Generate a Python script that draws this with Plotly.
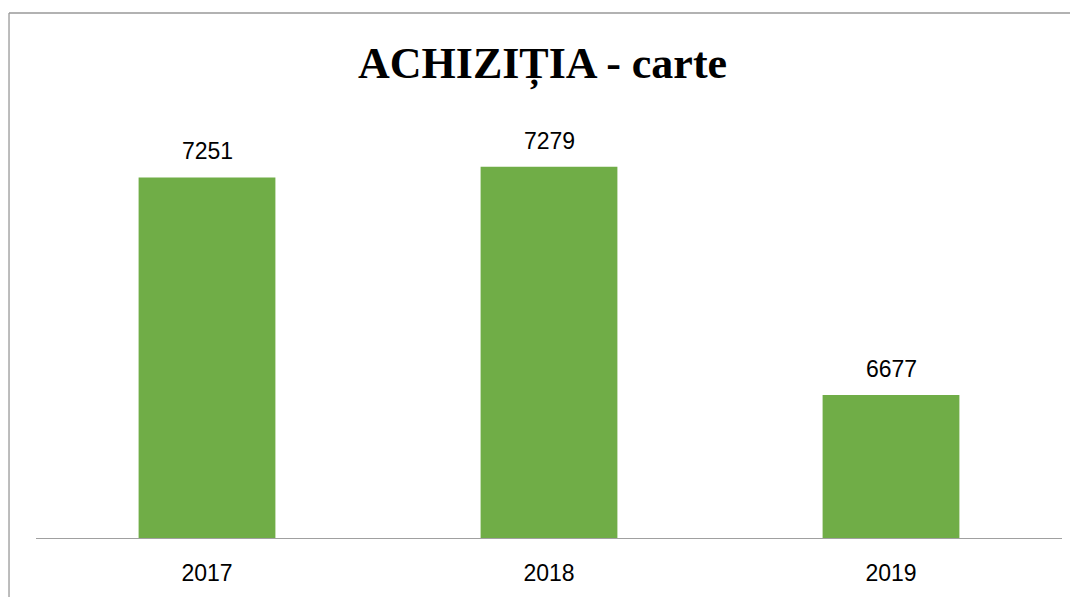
import plotly.graph_objects as go

categories = ["2017", "2018", "2019"]
values = [7251, 7279, 6677]
title_text = "ACHIZIȚIA - carte"

bar_color = "#70AD47"
label_font = dict(family="Liberation Sans", size=23, color="#000000")

fig = go.Figure()
fig.add_trace(go.Bar(
    x=categories,
    y=values,
    marker=dict(color=bar_color, line=dict(width=0)),
    width=0.4,
    hoverinfo="skip",
))

for i, v in enumerate(values):
    fig.add_annotation(
        x=i, y=v, xref="x", yref="y",
        text=str(v), showarrow=False,
        yanchor="bottom", yshift=11,
        font=label_font,
    )

fig.update_layout(
    width=1070, height=589,
    margin=dict(l=28, r=16, t=113, b=59),
    paper_bgcolor="white",
    plot_bgcolor="white",
    showlegend=False,
    title=dict(
        text=f"<b>{title_text}</b>",
        font=dict(family="Liberation Serif", size=44, color="#000000"),
        x=0.4937, xanchor="center", xref="paper",
        y=0.9066, yanchor="middle", yref="container",
    ),
    xaxis=dict(
        type="category",
        range=[-0.5, 2.5],
        showline=True, linecolor="#a0a0a0", linewidth=1,
        showgrid=False, zeroline=False,
        ticks="outside", ticklen=14, tickcolor="rgba(0,0,0,0)",
        tickfont=label_font,
        automargin=False,
    ),
    yaxis=dict(
        range=[6300, 7400],
        showticklabels=False, showgrid=False, zeroline=False,
        showline=False, ticks="",
        automargin=False,
    ),
    shapes=[
        dict(type="line", xref="paper", yref="paper",
             x0=-0.0263, x1=-0.0263, y0=-0.2, y1=1.259,
             line=dict(color="#999999", width=1.3)),
        dict(type="line", xref="paper", yref="paper",
             x0=-0.0263, x1=1.1, y0=1.259, y1=1.259,
             line=dict(color="#999999", width=1.3)),
    ],
)

fig.write_html("out.html")
